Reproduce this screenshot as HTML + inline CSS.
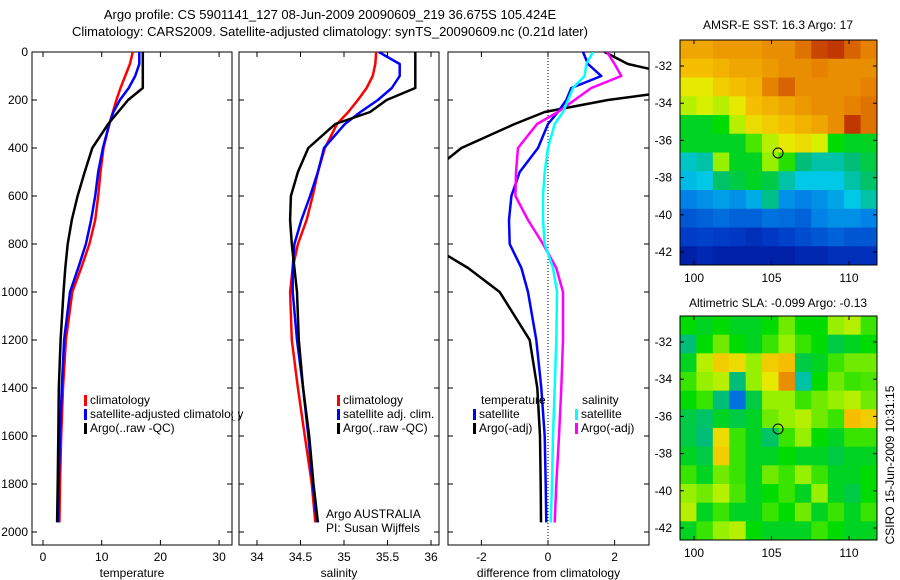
<!DOCTYPE html>
<html><head><meta charset="utf-8"><style>
body{margin:0;background:#fff;}
svg{display:block;font-family:"Liberation Sans",sans-serif;}
text{fill:#000;}
</style></head><body>
<svg id="fig" width="900" height="580" viewBox="0 0 900 580">
<text x="330" y="19" font-size="13" text-anchor="middle">Argo profile: CS 5901141_127 08-Jun-2009 20090609_219 36.675S 105.424E</text>
<text x="330" y="36" font-size="13" text-anchor="middle">Climatology: CARS2009. Satellite-adjusted climatology: synTS_20090609.nc (0.21d later)</text>
<text x="778" y="29" font-size="12" text-anchor="middle">AMSR-E SST: 16.3 Argo: 17</text>
<text x="778" y="307" font-size="12" text-anchor="middle">Altimetric SLA: -0.099 Argo: -0.13</text>
<text transform="translate(894,465) rotate(-90)" font-size="12" text-anchor="middle">CSIRO 15-Jun-2009 10:31:15</text>
<g id="g"></g>
</svg>
<script>
const depths=[0,50,100,150,200,250,300,400,500,600,700,800,900,1000,1200,1400,1600,1800,1960];
const tempClim=[15.3,14.8,14.0,13.2,12.5,11.9,11.3,10.3,9.8,9.4,8.9,7.9,6.5,5.0,3.9,3.4,3.1,2.9,2.8];
const tempSat=[16.4,16.4,15.7,14.6,13.1,12.0,11.3,10.2,9.4,8.9,8.2,7.3,6.0,4.6,3.6,3.2,2.9,2.7,2.6];
const tempArgo=[17.0,17.0,17.0,17.0,14.5,12.8,11.1,8.4,7.1,5.9,4.9,4.2,3.8,3.5,3.0,2.7,2.6,2.5,2.4];
const salClim=[35.37,35.36,35.33,35.26,35.16,35.05,34.92,34.78,34.70,34.64,34.57,34.47,34.41,34.38,34.40,34.47,34.55,34.63,34.67];
const salSat=[35.40,35.64,35.64,35.55,35.39,35.19,35.01,34.77,34.70,34.61,34.51,34.43,34.41,34.41,34.46,34.53,34.59,34.64,34.69];
const salArgo=[35.82,35.82,35.82,35.82,35.49,35.30,34.90,34.59,34.47,34.39,34.38,34.40,34.43,34.46,34.48,34.53,34.60,34.65,34.70];
const dTempSat=[1.05,1.2,1.6,0.7,0.55,0.3,0.0,-0.3,-0.85,-1.1,-1.17,-1.15,-0.8,-0.6,-0.35,-0.2,-0.1,-0.07,-0.05];
const dTempArgo=[1.7,2.4,4.0,4.5,1.8,-0.1,-1.0,-2.6,-3.5,-4.0,-4.0,-3.6,-2.4,-1.45,-0.55,-0.32,-0.24,-0.22,-0.21];
const dSalSat=[1.35,1.15,1.1,0.75,0.6,0.45,0.2,0.0,-0.1,-0.15,-0.15,-0.1,0.15,0.27,0.25,0.2,0.15,0.12,0.08];
const dSalArgo=[1.77,2.0,2.2,1.3,0.8,0.3,-0.33,-0.9,-0.96,-0.98,-0.6,-0.15,0.25,0.45,0.45,0.4,0.33,0.25,0.2];
const depthTicks=[0,200,400,600,800,1000,1200,1400,1600,1800,2000];
const tempTicks=[0,10,20,30];
const salTicks=[34,34.5,35,35.5,36];
const diffTicks=[-2,0,2];
const latTicks=[-32,-34,-36,-38,-40,-42];
const lonTicks=[100,105,110];
const sstGrid=[
[.76,.76,.78,.78,.78,.8,.8,.84,.9,.92,.86,.82],
[.72,.72,.74,.76,.76,.78,.8,.8,.82,.8,.8,.8],
[.66,.66,.7,.72,.74,.82,.86,.8,.8,.8,.8,.82],
[.62,.64,.62,.66,.72,.74,.76,.78,.8,.8,.82,.84],
[.5,.5,.52,.62,.68,.7,.72,.74,.76,.8,.92,.84],
[.5,.5,.5,.5,.56,.62,.66,.68,.64,.52,.5,.5],
[.4,.42,.6,.5,.5,.6,.54,.45,.42,.42,.45,.48],
[.36,.38,.46,.48,.5,.48,.42,.38,.38,.38,.42,.46],
[.28,.3,.32,.3,.34,.44,.3,.28,.3,.33,.38,.42],
[.2,.22,.24,.22,.22,.25,.24,.22,.28,.3,.3,.28],
[.15,.16,.15,.14,.12,.14,.16,.18,.2,.22,.2,.2],
[.08,.1,.08,.08,.08,.08,.08,.1,.1,.12,.12,.12]];
const slaGrid=[
[.52,.5,.52,.5,.5,.52,.58,.52,.52,.6,.62,.55],
[.45,.52,.58,.52,.5,.55,.6,.55,.52,.48,.5,.52],
[.5,.62,.7,.68,.6,.7,.72,.48,.5,.55,.58,.58],
[.55,.6,.62,.45,.6,.66,.8,.42,.52,.58,.55,.56],
[.52,.55,.45,.25,.48,.6,.6,.55,.58,.6,.62,.58],
[.48,.46,.5,.48,.5,.58,.6,.62,.58,.55,.72,.7],
[.48,.45,.68,.55,.5,.46,.55,.6,.52,.5,.55,.55],
[.5,.48,.7,.55,.5,.5,.52,.5,.5,.48,.5,.5],
[.55,.5,.58,.55,.5,.58,.55,.6,.55,.5,.5,.52],
[.6,.58,.62,.56,.5,.52,.55,.5,.6,.5,.48,.52],
[.62,.5,.55,.5,.5,.55,.52,.58,.5,.55,.5,.55],
[.5,.55,.6,.62,.52,.5,.5,.5,.55,.52,.5,.5]];
const argoLon=105.424, argoLat=-36.675;

const NS="http://www.w3.org/2000/svg";
const G=document.getElementById('g');
function mk(tag,attrs,parent){const e=document.createElementNS(NS,tag);for(const k in attrs)e.setAttribute(k,attrs[k]);(parent||G).appendChild(e);return e;}
const yD=d=>52+d*0.24;

function panel(name,x0,x1,xScale,xTicks,xlabel,series,showY){
  const g=mk('g',{});
  
  
  const cid='clip-'+name;
  const cp=mk('clipPath',{id:cid},g);mk('rect',{x:x0,y:52,width:x1-x0,height:493},cp);
  mk('rect',{x:x0,y:52,width:x1-x0,height:493,fill:'none',stroke:'#000','stroke-width':1},g);
  xTicks.forEach(t=>{const x=xScale(t);
    mk('line',{x1:x,x2:x,y1:545,y2:540,stroke:'#000'},g);mk('line',{x1:x,x2:x,y1:52,y2:57,stroke:'#000'},g);
    const tx=mk('text',{x:x,y:561,'font-size':12,'text-anchor':'middle'},g);tx.textContent=t;
    
    });
  depthTicks.forEach(t=>{const y=yD(t);
    mk('line',{x1:x0,x2:x0+5,y1:y,y2:y,stroke:'#000'},g);mk('line',{x1:x1,x2:x1-5,y1:y,y2:y,stroke:'#000'},g);
    if(showY){const tx=mk('text',{x:28,y:y+4,'font-size':12,'text-anchor':'end'},g);tx.textContent=t;
      
      }});
  const xl=mk('text',{x:(x0+x1)/2,y:577,'font-size':12,'text-anchor':'middle'},g);xl.textContent=xlabel;
  
  
  const sg=mk('g',{'clip-path':'url(#'+cid+')'},g);
  series.forEach(s=>{
    const pts=depths.map((d,i)=>xScale(s.v[i]).toFixed(1)+','+yD(d).toFixed(1)).join(' ');
    const p=mk('polyline',{points:pts,fill:'none',stroke:s.c,'stroke-width':2.5,'stroke-linejoin':'round'},sg);
    
    
  });
  return g;
}
function legend(x,y,items){items.forEach((it,i)=>{
  mk('rect',{x:x,y:y+i*14-9,width:3,height:11,fill:it.c});
  const t=mk('text',{x:x+6,y:y+i*14,'font-size':12});t.textContent=it.t;
  
  });}

const tS=v=>43+v*5.87;
panel('temperature-panel',32,232,tS,tempTicks,'temperature',[
 {v:tempClim,c:'#f00',n:'temp-climatology-line'},{v:tempSat,c:'#00f',n:'temp-satellite-line'},{v:tempArgo,c:'#000',n:'temp-argo-line'}],true);
legend(84,404,[{c:'#f00',t:'climatology'},{c:'#00f',t:'satellite-adjusted climatology'},{c:'#000',t:'Argo(..raw -QC)'}]);
const sS=v=>257+(v-34)*87;
mk('rect',{x:233,y:390,width:5,height:30,fill:'#fff'});
panel('salinity-panel',239,439,sS,salTicks,'salinity',[
 {v:salClim,c:'#f00',n:'sal-climatology-line'},{v:salSat,c:'#00f',n:'sal-satellite-line'},{v:salArgo,c:'#000',n:'sal-argo-line'}],false);
legend(337,404,[{c:'#f00',t:'climatology'},{c:'#00f',t:'satellite adj. clim.'},{c:'#000',t:'Argo(..raw -QC)'}]);
let a=mk('text',{x:326,y:518,'font-size':12});a.textContent='Argo AUSTRALIA';


a=mk('text',{x:326,y:532,'font-size':12});a.textContent='PI: Susan Wijffels';


const dS=v=>548+v*33.3;
mk('line',{x1:dS(0),x2:dS(0),y1:52,y2:545,stroke:'#000','stroke-dasharray':'1,2'});
panel('difference-panel',448,649,dS,diffTicks,'difference from climatology',[
 {v:dTempArgo,c:'#000',n:'diff-temp-argo-line'},{v:dTempSat,c:'#00f',n:'diff-temp-satellite-line'},
 {v:dSalArgo,c:'#f0f',n:'diff-sal-argo-line'},{v:dSalSat,c:'#0ff',n:'diff-sal-satellite-line'}],false);
a=mk('text',{x:481,y:404,'font-size':12});a.textContent='temperature';


legend(473,418,[{c:'#00f',t:'satellite'},{c:'#000',t:'Argo(-adj)'}]);
a=mk('text',{x:582,y:404,'font-size':12});a.textContent='salinity';


legend(575,418,[{c:'#0ff',t:'satellite'},{c:'#f0f',t:'Argo(-adj)'}]);

const cmapStops=[[0,0,0,130],[0.15,0,60,200],[0.28,0,130,230],[0.38,0,200,230],[0.45,0,190,120],[0.52,0,220,0],[0.6,150,240,0],[0.65,230,240,0],[0.72,245,190,0],[0.82,230,130,0],[0.9,200,70,0],[1,160,0,0]];
function cmap(v){v=Math.max(0,Math.min(1,v));
  for(let i=1;i<cmapStops.length;i++){const a=cmapStops[i-1],b=cmapStops[i];
    if(v<=b[0]){const f=(v-a[0])/(b[0]-a[0]);
      return 'rgb('+[1,2,3].map(k=>Math.round(a[k]+f*(b[k]-a[k]))).join(',')+')';}}
  return 'rgb(160,0,0)';}
function map(name,y0,y1,grid){
  const x0=680,x1=877;
  const lonS=l=>694+(l-100)*15.5;
  const latS=l=>66+(-32-l)*18.6+(y0-40);
  const g=mk('g',{});
  
  
  const nr=grid.length,nc=grid[0].length,cw=(x1-x0)/nc,ch=(y1-y0)/nr;
  grid.forEach((row,r)=>row.forEach((v,c)=>{
    const re=mk('rect',{x:(x0+c*cw).toFixed(2),y:(y0+r*ch).toFixed(2),width:(cw+0.5).toFixed(2),height:(ch+0.5).toFixed(2),fill:cmap(v)},g);
    
    }));
  mk('rect',{x:x0,y:y0,width:x1-x0,height:y1-y0,fill:'none',stroke:'#000'},g);
  latTicks.forEach(t=>{const y=latS(t);
    mk('line',{x1:x0,x2:x0+4,y1:y,y2:y,stroke:'#000'},g);mk('line',{x1:x1,x2:x1-4,y1:y,y2:y,stroke:'#000'},g);
    const tx=mk('text',{x:672,y:y+4,'font-size':12,'text-anchor':'end'},g);tx.textContent=t;
    
    });
  lonTicks.forEach(t=>{const x=lonS(t);
    mk('line',{x1:x,x2:x,y1:y1,y2:y1-4,stroke:'#000'},g);mk('line',{x1:x,x2:x,y1:y0,y2:y0+4,stroke:'#000'},g);
    const tx=mk('text',{x:x,y:y1+17,'font-size':12,'text-anchor':'middle'},g);tx.textContent=t;
    
    });
  const c=mk('ellipse',{cx:lonS(argoLon),cy:latS(argoLat),rx:5,ry:5,fill:'none',stroke:'#000','stroke-width':1},g);
  
  
}
map('sst-map',40,265,sstGrid);
map('sla-map',316,540,slaGrid);
</script>
</body></html>
